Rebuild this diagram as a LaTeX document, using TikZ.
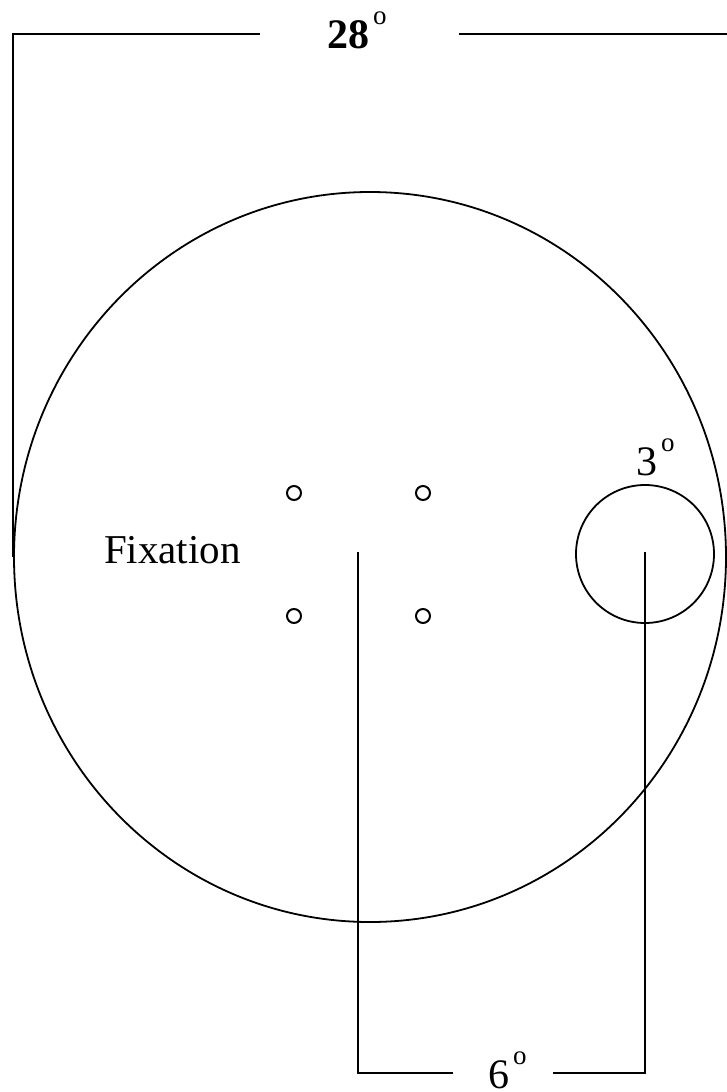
\documentclass[tikz,border=0pt]{standalone}
\usepackage{fontspec}
\setmainfont{Liberation Serif}
\begin{document}
\begin{tikzpicture}[x=1pt,y=-1pt,
  ln/.style={line width=1.8pt},
  dot/.style={line width=2pt},
  lbl/.style={anchor=base west,inner sep=0pt,outer sep=0pt}]
\newcommand{\degring}{\hspace{4pt}\raisebox{24pt}{\fontsize{27}{27}\selectfont\mdseries o}}
\useasboundingbox (0,0) rectangle (727,1092);
% big field
\coordinate (fc) at (370,557);
\draw[ln] (fc) ellipse [x radius=356, y radius=365];
% top dimension 28 deg
\coordinate (tl) at (13,34);
\coordinate (tla) at (260,34);
\coordinate (tlb) at (459,34);
\coordinate (tr) at (727,34);
\coordinate (lt) at (13,557);
\draw[ln] (tla) -- (tl) -- (lt);
\draw[ln] (tlb) -- (tr);
\node[lbl,font=\fontsize{42}{42}\selectfont\bfseries] (t28) at (327,48) {28\degring};
% fixation dots
\draw[dot] (294,493) circle[radius=7];
\draw[dot] (423,493) circle[radius=7];
\draw[dot] (294,616) circle[radius=7];
\draw[dot] (423,616) circle[radius=7];
\node[lbl,font=\fontsize{41}{41}\selectfont] (fix) at (104,563) {Fixation};
% target circle
\coordinate (sc) at (645,554);
\draw[ln] (sc) circle[radius=69];
\node[lbl,font=\fontsize{42}{42}\selectfont] (t3) at (636,475) {3\degring};
% bottom dimension 6 deg
\coordinate (ct) at (358,552);
\coordinate (cb) at (358,1073);
\coordinate (cba) at (453,1073);
\coordinate (st) at (645,552);
\coordinate (sb) at (645,1073);
\coordinate (sba) at (553,1073);
\draw[ln] (ct) -- (cb) -- (cba);
\draw[ln] (st) -- (sb) -- (sba);
\node[lbl,font=\fontsize{42}{42}\selectfont] (t6) at (488,1088) {6\degring};
\end{tikzpicture}
\end{document}
